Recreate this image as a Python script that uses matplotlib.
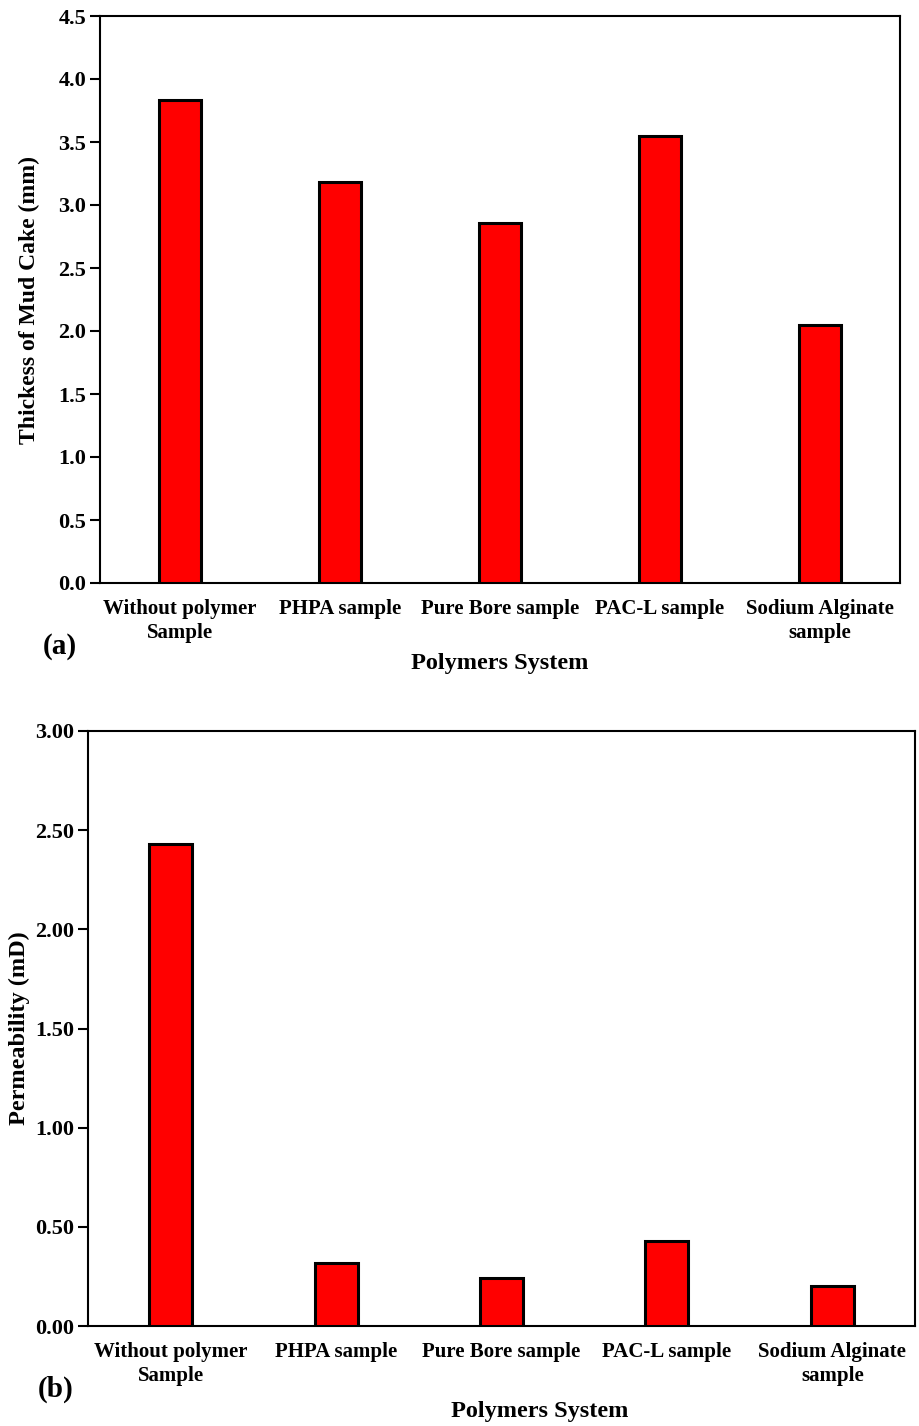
import matplotlib.pyplot as plt
from matplotlib.ticker import FormatStrFormatter

plt.rcParams['font.family'] = ['Liberation Serif', 'DejaVu Serif']
plt.rcParams['font.weight'] = 'bold'

categories = ["Without polymer\nSample", "PHPA sample", "Pure Bore sample",
              "PAC-L sample", "Sodium Alginate\nsample"]
thickness = [3.83, 3.18, 2.86, 3.55, 2.05]
permeability = [2.43, 0.32, 0.24, 0.43, 0.20]

fig = plt.figure(figsize=(9.2, 14.26), dpi=100)
ax1 = fig.add_axes([100 / 920, 1 - 583 / 1426, 800 / 920, 567 / 1426])
ax2 = fig.add_axes([88 / 920, 1 - 1326 / 1426, 827 / 920, 595 / 1426])


def style_axis(ax, values, ylim, yticks, fmt):
    x = range(len(values))
    ax.bar(x, values, width=0.26, color='#ff0000', edgecolor='black', linewidth=2.2, zorder=3)
    ax.set_xlim(-0.5, len(values) - 0.5)
    ax.set_ylim(*ylim)
    ax.set_yticks(yticks)
    ax.yaxis.set_major_formatter(FormatStrFormatter(fmt))
    ax.set_xticks(list(x))
    ax.set_xticklabels(categories, fontsize=15, fontweight='bold', linespacing=1.25)
    ax.tick_params(axis='x', length=0, pad=11.5)
    ax.tick_params(axis='y', direction='out', length=7, width=1.5, labelsize=16, pad=3)
    for s in ax.spines.values():
        s.set_linewidth(1.5)


style_axis(ax1, thickness, (0, 4.5), [i * 0.5 for i in range(10)], '%.1f')
style_axis(ax2, permeability, (0, 3.0), [i * 0.5 for i in range(7)], '%.2f')

ax1.set_ylabel("Thickess of Mud Cake (mm)", fontsize=17, fontweight='bold', labelpad=13)
ax2.set_ylabel("Permeability (mD)", fontsize=17.5, fontweight='bold', labelpad=4)

fig.text(500 / 920, 1 - 663 / 1426, "Polymers System", fontsize=17.5, fontweight='bold',
         ha='center', va='center')
fig.text(540 / 920, 1 - 1412 / 1426, "Polymers System", fontsize=17.5, fontweight='bold',
         ha='center', va='center')
fig.text(60 / 920, 1 - 646 / 1426, "(a)", fontsize=21, fontweight='bold', ha='center', va='center')
fig.text(56 / 920, 1 - 1389 / 1426, "(b)", fontsize=21, fontweight='bold', ha='center', va='center')

fig.savefig("out.png", dpi=100)
